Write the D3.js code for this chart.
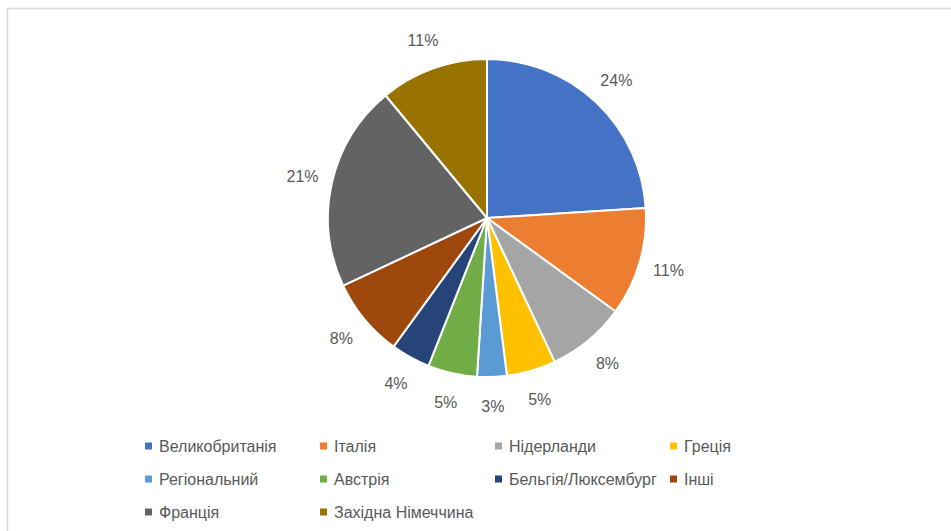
<!DOCTYPE html>
<html>
<head>
<meta charset="utf-8">
<script src="https://cdn.jsdelivr.net/npm/d3@7"></script>
<style>
  body { margin: 0; background: #fff; }
  text { font-family: "Liberation Sans", Arial, sans-serif; fill: #595959; }
</style>
</head>
<body>
<svg id="chart" width="951" height="531"></svg>
<script>
const categories = [
  "Великобританія", "Італія", "Нідерланди", "Греція",
  "Регіональний", "Австрія", "Бельгія/Люксембург", "Інші",
  "Франція", "Західна Німеччина"
];
const shares = [24, 11, 8, 5, 3, 5, 4, 8, 21, 11];
const colors = [
  "#4472C4", "#ED7D31", "#A5A5A5", "#FFC000",
  "#5B9BD5", "#70AD47", "#264478", "#9E480E",
  "#636363", "#997300"
];

const width = 951, height = 531;
const cx = 487, cy = 218, radius = 159;

const svg = d3.select("#chart");

// chart area border
svg.append("rect")
  .attr("x", 7.5).attr("y", 8.5)
  .attr("width", width).attr("height", height)
  .attr("fill", "none")
  .attr("stroke", "#d9d9d9")
  .attr("stroke-width", 1.5);

const data = categories.map((name, i) => ({ name, value: shares[i], color: colors[i] }));

const pie = d3.pie().sort(null).value((d) => d.value);
const arc = d3.arc().innerRadius(0).outerRadius(radius);
const labelArc = d3.arc().innerRadius(189).outerRadius(189);

const g = svg.append("g").attr("transform", `translate(${cx},${cy})`);
const arcs = pie(data);

g.selectAll("path.slice")
  .data(arcs)
  .join("path")
  .attr("class", "slice")
  .attr("d", arc)
  .attr("fill", (d) => d.data.color)
  .attr("stroke", "#fff")
  .attr("stroke-width", 2)
  .attr("stroke-linejoin", "round");

g.selectAll("text.lbl")
  .data(arcs)
  .join("text")
  .attr("class", "lbl")
  .attr("transform", (d) => `translate(${labelArc.centroid(d)})`)
  .attr("text-anchor", "middle")
  .attr("dominant-baseline", "central")
  .style("font-size", "16px")
  .text((d) => d.data.value + "%");

// legend: 4 columns, 3 rows
const legendX = d3.scalePoint().domain(d3.range(4)).range([145, 670]);
const legendY = d3.scalePoint().domain(d3.range(3)).range([446, 512]);

const item = svg.append("g").selectAll("g")
  .data(data)
  .join("g")
  .attr("transform", (d, i) => `translate(${legendX(i % 4)},${legendY(Math.floor(i / 4))})`);

item.append("rect")
  .attr("x", 0).attr("y", -3.5)
  .attr("width", 7).attr("height", 7)
  .attr("fill", (d) => d.color);

item.append("text")
  .attr("x", 14)
  .attr("dominant-baseline", "central")
  .style("font-size", "16px")
  .text((d) => d.name);
</script>
</body>
</html>
